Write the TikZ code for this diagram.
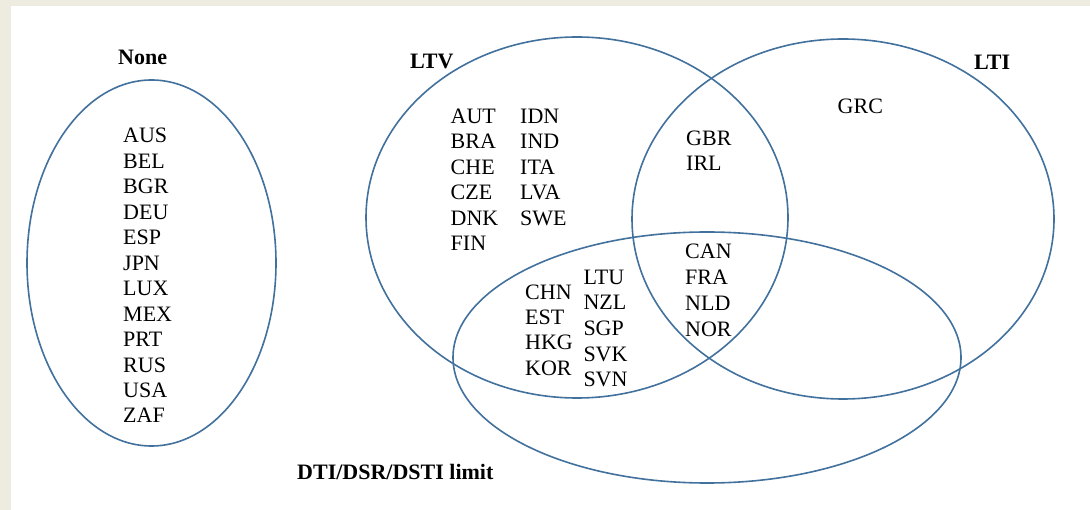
\documentclass[tikz,border=0pt]{standalone}
\usepackage{fontspec}
\setmainfont{Liberation Serif}
\definecolor{vennblue}{RGB}{65,113,156}
\definecolor{paper}{RGB}{238,235,224}
\begin{document}
\begin{tikzpicture}[x=1pt,y=-1pt,
  setline/.style={draw=vennblue,line width=1.6pt},
  cty/.style={anchor=base west,inner sep=0pt,font=\fontsize{22}{26}\selectfont},
  setname/.style={anchor=base west,inner sep=0pt,font=\fontsize{22}{26}\selectfont\bfseries}]
  % page frame
  \useasboundingbox (0,0) rectangle (1090,510);
  \fill[paper] (0,0) rectangle (1090,510);
  \fill[white] (11,6) rectangle (1090,510);

  % sets
  \draw[setline] (151.5,263) ellipse [x radius=124.5, y radius=183];
  \draw[setline] (577,217.5) ellipse [x radius=211, y radius=180.5];
  \draw[setline] (843,219) ellipse [x radius=211, y radius=180];
  \draw[setline] (707,357.5) ellipse [x radius=254, y radius=125.5];

  % set titles
  \node[setname] (tnone) at (118,65) {None};
  \node[setname] (tltv) at (410,69) {LTV};
  \node[setname] (tlti) at (974,70) {LTI};
  \node[setname] (tdti) at (297,479) {DTI/DSR/DSTI limit};

  % no limit
  \foreach \c [count=\i from 0] in {AUS,BEL,BGR,DEU,ESP,JPN,LUX,MEX,PRT,RUS,USA,ZAF}
    \node[cty] (none\i) at (123,143+25.45*\i) {\c};

  % LTV only
  \foreach \c [count=\i from 0] in {AUT,BRA,CHE,CZE,DNK,FIN}
    \node[cty] (ltva\i) at (450.5,123.3+25.5*\i) {\c};
  \foreach \c [count=\i from 0] in {IDN,IND,ITA,LVA,SWE}
    \node[cty] (ltvb\i) at (520,123.3+25.5*\i) {\c};

  % LTI only
  \node[cty] (grc) at (837.5,113.3) {GRC};

  % LTV and LTI
  \node[cty] (gbr) at (686,146) {GBR};
  \node[cty] (irl) at (686,171) {IRL};

  % LTV and DTI
  \foreach \c [count=\i from 0] in {CHN,EST,HKG,KOR}
    \node[cty] (ltvda\i) at (525,299.3+25.3*\i) {\c};
  \foreach \c [count=\i from 0] in {LTU,NZL,SGP,SVK,SVN}
    \node[cty] (ltvdb\i) at (583.3,284.3+25.6*\i) {\c};

  % all three
  \foreach \c [count=\i from 0] in {CAN,FRA,NLD,NOR}
    \node[cty] (all\i) at (685,258.7+25.8*\i) {\c};
\end{tikzpicture}
\end{document}
